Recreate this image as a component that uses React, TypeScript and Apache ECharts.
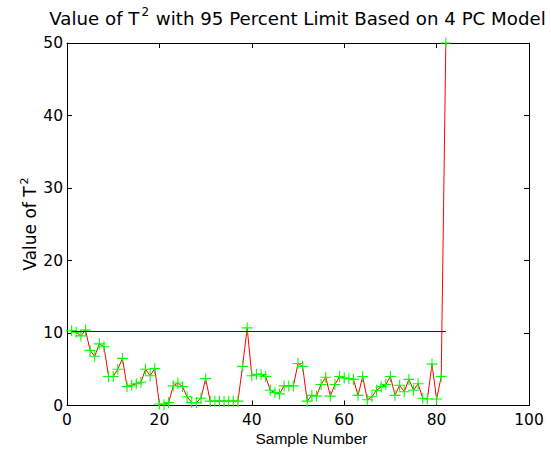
import React, { useEffect, useRef } from "react";
import * as echarts from "echarts";

const sampleValues: number[] = [
  10.3, 10.1, 9.6, 10.4, 7.6, 6.8, 8.5, 8.1, 4.0, 4.0,
  5.0, 6.5, 2.6, 2.8, 3.0, 3.2, 5.0, 4.1, 5.1, 0.2,
  0.1, 0.4, 2.7, 3.1, 2.6, 1.2, 0.4, 0.4, 1.0, 3.7,
  0.6, 0.6, 0.6, 0.6, 0.6, 0.6, 0.6, 5.4, 10.7, 4.1,
  4.3, 4.3, 4.0, 2.1, 1.8, 1.6, 2.7, 2.7, 2.7, 5.8,
  5.4, 0.6, 1.4, 1.3, 2.9, 3.9, 1.3, 2.9, 4.0, 3.8,
  3.7, 3.6, 1.4, 4.0, 0.8, 1.2, 2.1, 2.6, 2.9, 4.0,
  1.4, 2.8, 1.9, 3.6, 2.1, 3.0, 1.0, 0.9, 5.7, 0.9,
  4.0, 50.0,
];
const firstSample = 1;
const limitValue = 10.2;
const limitStart = 1;
const limitEnd = 82;
const xTicks = { min: 0, max: 100, interval: 20 };
const yTicks = { min: 0, max: 50, interval: 10 };
const titleParts = ["Value of T", "2", " with 95 Percent Limit Based on 4 PC Model"];
const yLabelParts = ["Value of T", "2"];
const xLabel = "Sample Number";

const FONT = "Liberation Sans, Arial, Helvetica, sans-serif";
const WIDE = "DejaVu Sans, Liberation Sans, sans-serif";
const PLUS = "path://M4.5,0H5.5V4.5H10V5.5H5.5V10H4.5V5.5H0V4.5H4.5Z";

export default function App() {
  const ref = useRef<HTMLDivElement>(null);
  useEffect(() => {
    if (!ref.current) return;
    const chart = echarts.init(ref.current, undefined, { renderer: "svg" });
    const points = sampleValues.map((v, i) => [firstSample + i, v]);
    const axisCommon = {
      axisLine: { show: true, onZero: false, lineStyle: { color: "#000", width: 1 } },
      axisTick: { show: true, inside: true, length: 5, lineStyle: { color: "#000" } },
      splitLine: { show: false },
    };
    chart.setOption({
      animation: false,
      backgroundColor: "#fff",
      grid: { left: 67, top: 43, right: 22, bottom: 46.5, containLabel: false },
      xAxis: [
        {
          type: "value",
          position: "bottom",
          ...xTicks,
          ...axisCommon,
          axisLabel: { color: "#000", fontSize: 15.5, fontFamily: WIDE, margin: 6 },
        },
        {
          type: "value",
          position: "top",
          ...xTicks,
          ...axisCommon,
          axisLabel: { show: false },
        },
      ],
      yAxis: [
        {
          type: "value",
          position: "left",
          ...yTicks,
          ...axisCommon,
          axisLabel: { color: "#000", fontSize: 15.5, fontFamily: WIDE, margin: 4 },
        },
        {
          type: "value",
          position: "right",
          ...yTicks,
          ...axisCommon,
          axisLabel: { show: false },
        },
      ],
      graphic: [
        {
          type: "text",
          x: 297.5,
          y: 6,
          style: {
            text: `{a|${titleParts[0]}}{s|${titleParts[1]}}{a|${titleParts[2]}}`,
            align: "center",
            verticalAlign: "top",
            rich: {
              a: { fontFamily: WIDE, fontSize: 18.2, fill: "#000", lineHeight: 24 },
              s: { fontFamily: WIDE, fontSize: 12, fill: "#000", verticalAlign: "top", lineHeight: 13, padding: [0, 1, 0, 2] },
            },
          },
        },
        {
          type: "text",
          x: 30,
          y: 224,
          rotation: Math.PI / 2,
          style: {
            text: `{a|${yLabelParts[0]}}{s|${yLabelParts[1]}}`,
            align: "center",
            verticalAlign: "middle",
            rich: {
              a: { fontFamily: WIDE, fontSize: 17, fill: "#000", lineHeight: 22 },
              s: { fontFamily: WIDE, fontSize: 11, fill: "#000", verticalAlign: "top", lineHeight: 12, padding: [0, 0, 0, 2] },
            },
          },
        },
        {
          type: "text",
          x: 311.5,
          y: 446,
          style: {
            text: xLabel,
            fontFamily: FONT,
            fontSize: 15.5,
            fill: "#000",
            align: "center",
            verticalAlign: "bottom",
          },
        },
      ],
      series: [
        {
          type: "line",
          xAxisIndex: 0,
          yAxisIndex: 0,
          data: points,
          symbol: PLUS,
          symbolSize: 11,
          showAllSymbol: true,
          color: "#00ff00",
          itemStyle: { color: "#00ff00" },
          lineStyle: { color: "#ff0000", width: 1 },
          z: 3,
          markLine: {
            silent: true,
            symbol: ["none", "none"],
            label: { show: false },
            lineStyle: { color: "#0000ff", width: 1, type: "solid", opacity: 1 },
            emphasis: { disabled: true },
            data: [
              [
                { coord: [limitStart, limitValue] },
                { coord: [limitEnd, limitValue] },
              ],
            ],
          },
        },
      ],
    });
    return () => chart.dispose();
  }, []);
  return (
    <div
      ref={ref}
      style={{ position: "fixed", left: 0, top: 0, width: 551, height: 452 }}
    />
  );
}
